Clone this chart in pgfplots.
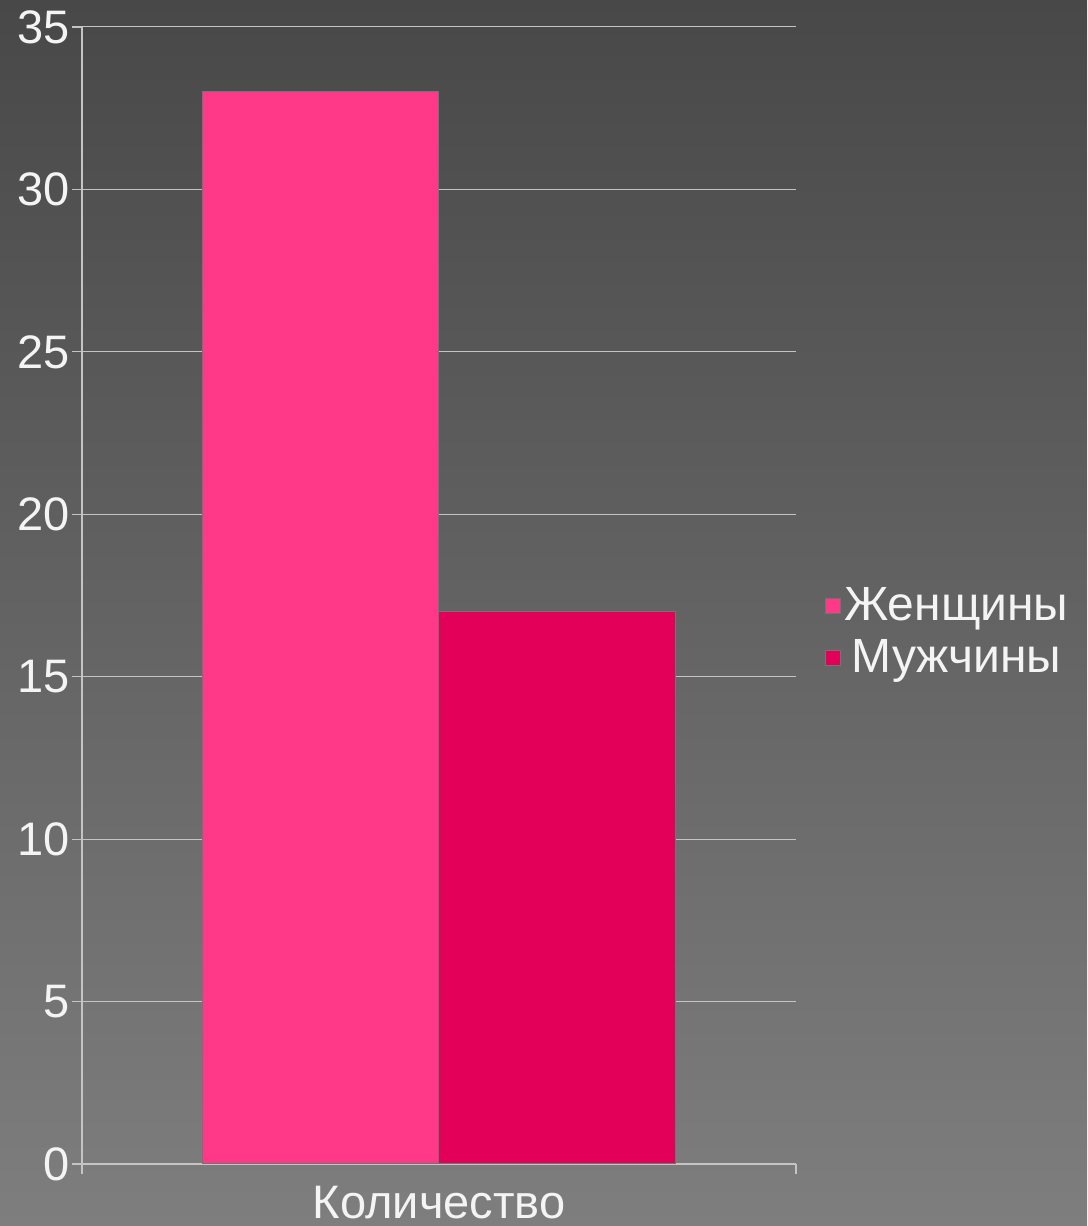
\documentclass[border=0pt]{standalone}
\usepackage{pgfplots}
\pgfplotsset{compat=1.18}
\usepackage{fontspec}
\setmainfont{Liberation Sans}
\definecolor{bgtop}{HTML}{484848}
\definecolor{bgbot}{HTML}{7E7E7E}
\definecolor{cw}{HTML}{FF3888}
\definecolor{cm}{HTML}{E30058}
\definecolor{txt}{HTML}{F4F4F4}
\definecolor{gridc}{HTML}{C4C4C4}
\begin{document}
\begin{tikzpicture}
\shade[top color=bgtop, bottom color=bgbot] (0,0) rectangle (543.5pt,613pt);
\useasboundingbox (0,0) rectangle (543.5pt,613pt);
\begin{axis}[
  at={(41pt,31pt)}, anchor=south west,
  scale only axis, width=357pt, height=568.5pt,
  xmin=-0.5, xmax=0.5, ymin=0, ymax=35,
  enlargelimits=false,
  ybar=0pt, bar width=118pt,
  xtick={-0.5,0.5}, xticklabels={},
  ytick={0,5,...,35},
  axis x line*=bottom, axis y line*=left,
  axis line style={gridc, line width=0.6pt},
  tick style={gridc, line width=0.6pt},
  tick align=outside, major tick length=5pt,
  ymajorgrids, grid style={gridc, line width=0.5pt},
  /pgf/number format/assume math mode=true,
  ticklabel style={font=\fontsize{23.5}{27}\selectfont, text=txt},
  yticklabel style={inner sep=1pt, xshift=0pt},
  xlabel={Количество},
  xlabel style={at={(axis description cs:0.5,0)}, anchor=base, yshift=-27.5pt, font=\fontsize{23.5}{27}\selectfont, text=txt},
  legend style={at={(1.032,0.468)}, anchor=west, draw=none, fill=none,
    font=\fontsize{24}{28}\selectfont, text=txt, row sep=5pt,
    nodes={inner sep=1.5pt}},
  legend image code/.code={\draw[#1] (0pt,-3.75pt) rectangle (7.5pt,3.75pt);},
]
\addplot[fill=cw, draw=black!55, line width=0.5pt] coordinates {(0,33)};
\addlegendentry{Женщины}
\addplot[fill=cm, draw=black!55, line width=0.5pt] coordinates {(0,17)};
\addlegendentry{Мужчины}
\end{axis}
\end{tikzpicture}
\end{document}
